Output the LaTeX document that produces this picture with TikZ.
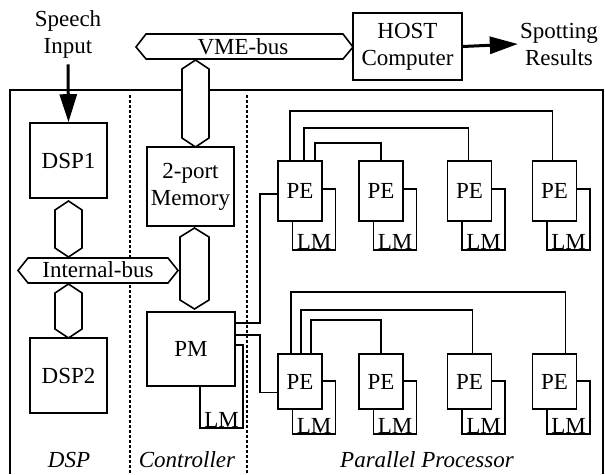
\documentclass[tikz,border=0pt]{standalone}
\usepackage{fontspec}
\setmainfont{Liberation Serif}
\usetikzlibrary{arrows.meta}

\begin{document}
\begin{tikzpicture}[x=1pt,y=-1pt,
  font=\fontsize{23}{27}\selectfont,
  blk/.style={draw,line width=1.6pt,fill=white,inner sep=0pt,align=center},
  lmbox/.style={draw,line width=1.6pt,fill=white,minimum width=43pt,inner sep=0pt,
    label={[inner sep=1pt,anchor=south]south:LM}},
  bus/.style={draw,line width=1.6pt,fill=white,line join=miter},
  wire/.style={line width=1.5pt},
  bigarrow/.style={line width=3pt,-{Triangle[length=28pt,width=17pt]}},
  divider/.style={line width=1.7pt,dash pattern=on 3pt off 2pt},
  caption/.style={font=\fontsize{23}{27}\selectfont\itshape}]

  \useasboundingbox (0,0) rectangle (605,474);

  % the frame and the dotted dividers
  \draw[line width=2.4pt] (10,474) -- (10,90) -- (603,90) -- (603,474);
  \draw[divider] (130,95) -- (130,474);
  \draw[divider] (247,95) -- (247,474);

  % host side
  \node[align=center] (speech) at (68,34) {Speech\\Input};
  \node[blk,minimum width=109pt,minimum height=67pt] (host) at (407.5,46.5) {HOST\\Computer};
  \node[align=center,inner sep=2pt] (spot) at (559,44) {Spotting\\Results};

  % the VME-bus
  \draw[bus] (136,47) -- (146,34) -- (343,34) -- (353,47) -- (343,59) -- (146,59) -- cycle;
  \node (vme) at (243,46.5) {VME-bus};

  % DSP part
  \node[blk,minimum width=77pt,minimum height=75pt] (dspA) at (68.5,160.5) {DSP1};
  \node[blk,minimum width=77pt,minimum height=75pt] (dspB) at (68.5,375.5) {DSP2};
  \draw[bus] (68.5,201) -- (82,210) -- (82,248) -- (68.5,257) -- (55,248) -- (55,210) -- cycle;
  \draw[bus] (68.5,284) -- (82,293) -- (82,329) -- (68.5,338) -- (55,329) -- (55,293) -- cycle;
  \draw[bus] (18,270.5) -- (28,258) -- (168,258) -- (178,270.5) -- (168,283) -- (28,283) -- cycle;
  \node (ibus) at (98,269.5) {Internal-bus};

  % controller part
  \node[blk,minimum width=87pt,minimum height=79pt] (mem) at (190.5,186.5) {2-port\\Memory};
  \draw[bus] (195.5,60) -- (209,69) -- (209,138) -- (195.5,147) -- (182,138) -- (182,69) -- cycle;
  \draw[bus] (194.5,228) -- (209,237) -- (209,300) -- (194.5,309) -- (180,300) -- (180,237) -- cycle;
  \node[lmbox,minimum height=83pt] (lm0) at (221.5,386.5) {};
  \node[blk,minimum width=88pt,minimum height=74pt] (pm) at (191,349) {PM};

  % the upper row of PEs with their local memories
  \node[lmbox,minimum height=61pt] (la1) at (314,219.5) {};
  \node[lmbox,minimum height=61pt] (la2) at (395,219.5) {};
  \node[lmbox,minimum height=61pt] (la3) at (483.5,219.5) {};
  \node[lmbox,minimum height=61pt] (la4) at (568.5,219.5) {};
  \node[blk,minimum width=44pt,minimum height=60pt] (pa1) at (300,191) {PE};
  \node[blk,minimum width=44pt,minimum height=60pt] (pa2) at (381,191) {PE};
  \node[blk,minimum width=44pt,minimum height=60pt] (pa3) at (469.5,191) {PE};
  \node[blk,minimum width=44pt,minimum height=60pt] (pa4) at (554.5,191) {PE};

  % the lower row
  \node[lmbox,minimum height=53pt] (lb1) at (314,407.5) {};
  \node[lmbox,minimum height=53pt] (lb2) at (395,407.5) {};
  \node[lmbox,minimum height=53pt] (lb3) at (483.5,407.5) {};
  \node[lmbox,minimum height=53pt] (lb4) at (568.5,407.5) {};
  \node[blk,minimum width=44pt,minimum height=55pt] (pb1) at (300,381.5) {PE};
  \node[blk,minimum width=44pt,minimum height=55pt] (pb2) at (381,381.5) {PE};
  \node[blk,minimum width=44pt,minimum height=55pt] (pb3) at (469.5,381.5) {PE};
  \node[blk,minimum width=44pt,minimum height=55pt] (pb4) at (554.5,381.5) {PE};

  % links between the PEs
  \draw[wire] ([xshift=13pt]pa1.north west) -- ++(0,-49) -| ([xshift=-2pt]pa4.north);
  \draw[wire] ([xshift=27pt]pa1.north west) -- ++(0,-32) -| ([xshift=-1pt]pa3.north);
  \draw[wire] ([xshift=38pt]pa1.north west) -- ++(0,-17) -| (pa2.north);
  \draw[wire] ([xshift=14pt]pb1.north west) -- ++(0,-61) -| ([xshift=11pt]pb4.north);
  \draw[wire] ([xshift=24pt]pb1.north west) -- ++(0,-43) -| ([xshift=3pt]pb3.north);
  \draw[wire] ([xshift=34pt]pb1.north west) -- ++(0,-33) -| (pb2.north);

  % PM to the two rows
  \draw[wire] ([yshift=-12pt]pm.north east) -- ++(24,0) |- ([yshift=-3pt]pa1.west);
  \draw[wire] ([yshift=-24pt]pm.north east) -- ++(24,0) |- ([yshift=-11pt]pb1.west);

  % arrows
  \draw[bigarrow] ([yshift=-3pt]speech.south) -- (dspA.north);
  \draw[bigarrow] (host.east) -- (spot.west);

  % the names of the parts
  \node[caption] (capdsp) at (69,460) {DSP};
  \node[caption] (capctl) at (187,460) {Controller};
  \node[caption] (cappp) at (427,460) {Parallel Processor};
\end{tikzpicture}
\end{document}
